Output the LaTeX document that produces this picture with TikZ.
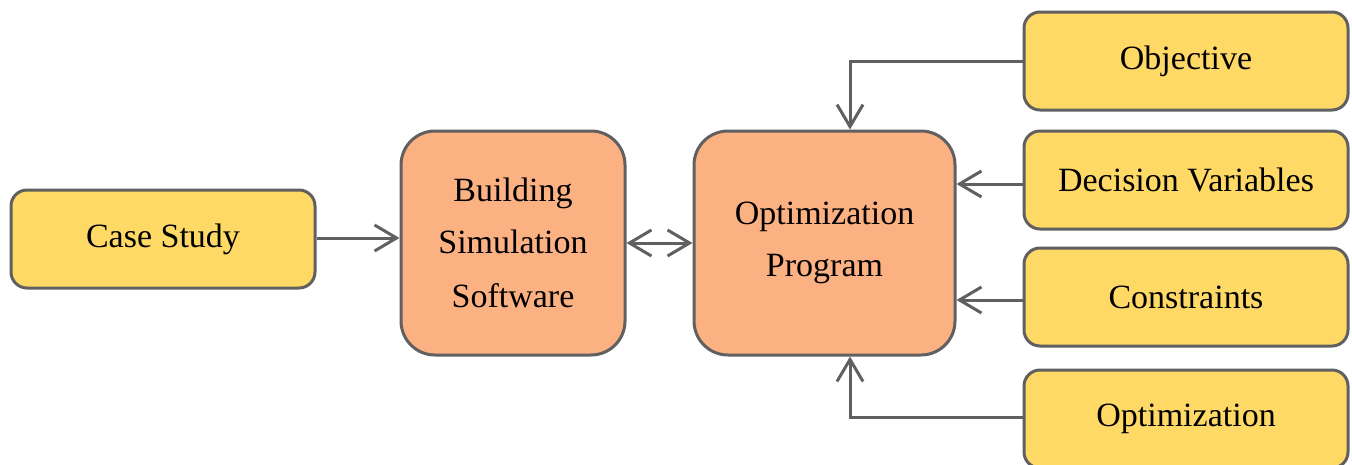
\documentclass[tikz,border=0pt]{standalone}
\usepackage{fontspec}
\setmainfont{Liberation Serif}
\usetikzlibrary{arrows.meta}
\definecolor{boxyellow}{HTML}{FFD966}
\definecolor{boxorange}{HTML}{FCB183}
\definecolor{edgegray}{HTML}{606060}
\begin{document}
\begin{tikzpicture}[x=1pt,y=-1pt,
  base/.style={draw=edgegray, line width=3pt, align=center, inner sep=0pt,
    font=\fontsize{34}{54}\selectfont},
  ybox/.style={base, fill=boxyellow, rounded corners=16pt, minimum width=324pt, minimum height=98pt},
  obox/.style={base, fill=boxorange, rounded corners=34pt, minimum height=224pt},
  conn/.style={draw=edgegray, line width=3pt, arrows={-Straight Barb[length=22pt,width=26pt]}}
]
\useasboundingbox (0,0) rectangle (1352,464);
\node[ybox, minimum width=304pt] (cs) at (163,239) {\raisebox{-3pt}{Case Study}};
\node[obox, minimum width=224pt] (bss) at (513,243) {\raisebox{-2pt}{Building}\\Simulation\\Software};
\node[obox, minimum width=261pt] (op) at (824.5,243) {\raisebox{-5pt}{Optimization}\\\raisebox{-3pt}{Program}};
\node[ybox] (obj) at (1186,61) {Objective};
\node[ybox] (dv) at (1186,180) {Decision Variables};
\node[ybox] (con) at (1186,297) {Constraints};
\node[ybox] (opt) at (1186,419) {Optimization};
\draw[conn] ([yshift=1pt]cs.east) -- ([yshift=1pt]cs.east -| bss.west);
\draw[conn, arrows={Straight Barb[length=22pt,width=26pt]-Straight Barb[length=22pt,width=26pt]}] (bss) -- (op);
\draw[conn] (obj.west) -| ([xshift=25.5pt]op.north);
\draw[conn] ([yshift=-4pt]dv.west) -- ([yshift=-4pt]dv.west -| op.east);
\draw[conn] ([yshift=-3pt]con.west) -- ([yshift=-3pt]con.west -| op.east);
\draw[conn] ([yshift=2pt]opt.west) -| ([xshift=25.5pt]op.south);
\end{tikzpicture}
\end{document}
